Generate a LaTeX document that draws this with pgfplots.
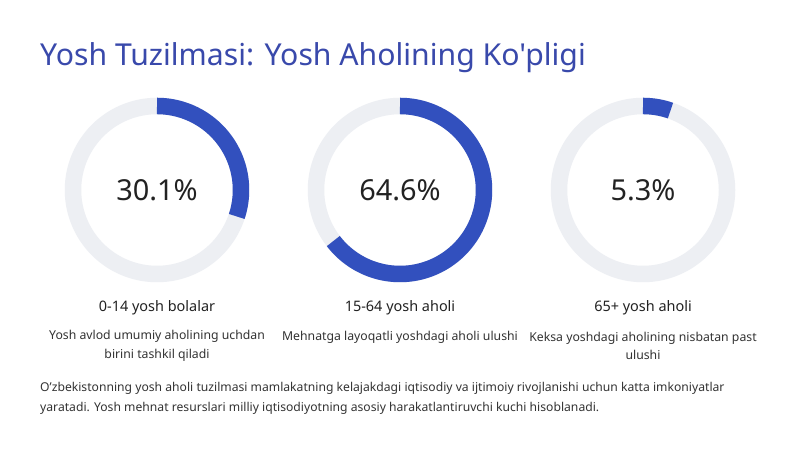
\documentclass[border=0pt]{standalone}
\usepackage{pgfplots}
\usepackage{pgfplotstable}
\pgfplotsset{compat=1.18}
\usepackage{fontspec}
\setmainfont{Noto Sans}
\newfontfamily\titlefont{Noto Sans}[Ligatures=ResetAll]
\definecolor{titleblue}{RGB}{57,73,171}
\definecolor{arcblue}{RGB}{50,80,190}
\definecolor{ringgray}{RGB}{237,239,243}
\definecolor{txt}{RGB}{34,34,34}
\definecolor{txtb}{RGB}{51,51,51}

\pgfplotstableread{
group value
0-14 30.1
15-64 64.6
65+ 5.3
}\agetable
\pgfplotstablegetelem{0}{value}\of\agetable \let\valA\pgfplotsretval
\pgfplotstablegetelem{1}{value}\of\agetable \let\valB\pgfplotsretval
\pgfplotstablegetelem{2}{value}\of\agetable \let\valC\pgfplotsretval

\pgfplotsset{donut/.style={
  x=1bp, y=1bp, scale only axis, hide axis, clip=false,
  xmin=-100, xmax=100, ymin=-100, ymax=100, anchor=center
}}

\begin{document}
\begin{tikzpicture}[x=1bp,y=1bp]
\fill[white] (0,0) rectangle (800,450);
\node[anchor=base west, text=titleblue, font=\titlefont\fontsize{30.3}{36}\selectfont, inner sep=0pt] at (40,384) {Yosh Tuzilmasi: Yosh Aholining Ko'pligi};

% donut 1
\begin{axis}[donut, at={(157,260)}]
\addplot[draw=ringgray, line width=16.5bp, line join=round, domain=0:360, samples=181] ({84*cos(x)},{84*sin(x)});
\addplot[draw=arcblue, line width=16.5bp, line join=round, line cap=butt, domain={90-3.6*\valA}:90, samples=100] ({84*cos(x)},{84*sin(x)});
\node[font=\fontsize{29}{34}\selectfont, text=txt] at (axis cs:0,0) {\valA\%};
\end{axis}

% donut 2
\begin{axis}[donut, at={(400,260)}]
\addplot[draw=ringgray, line width=16.5bp, line join=round, domain=0:360, samples=181] ({84*cos(x)},{84*sin(x)});
\addplot[draw=arcblue, line width=16.5bp, line join=round, line cap=butt, domain={90-3.6*\valB}:90, samples=150] ({84*cos(x)},{84*sin(x)});
\node[font=\fontsize{29}{34}\selectfont, text=txt] at (axis cs:0,0) {\valB\%};
\end{axis}

% donut 3
\begin{axis}[donut, at={(643,260)}]
\addplot[draw=ringgray, line width=16.5bp, line join=round, domain=0:360, samples=181] ({84*cos(x)},{84*sin(x)});
\addplot[draw=arcblue, line width=16.5bp, line join=round, line cap=butt, domain={90-3.6*\valC}:90, samples=30] ({84*cos(x)},{84*sin(x)});
\node[font=\fontsize{29}{34}\selectfont, text=txt] at (axis cs:0,0) {\valC\%};
\end{axis}

% labels
\foreach \cx/\lab in {157/{0-14 yosh bolalar}, 400/{15-64 yosh aholi}, 643/{65+ yosh aholi}}{
  \node[font=\fontsize{14.5}{18}\selectfont, text=txt] at (\cx,142) {\lab};
}
\node[font=\fontsize{12.3}{18.5}\selectfont, text=txtb, align=center] at (157,104) {Yosh avlod umumiy aholining uchdan\\birini tashkil qiladi};
\node[font=\fontsize{12.3}{18.5}\selectfont, text=txtb, align=center] at (400,113) {Mehnatga layoqatli yoshdagi aholi ulushi};
\node[font=\fontsize{12.3}{18.5}\selectfont, text=txtb, align=center] at (643,104) {Keksa yoshdagi aholining nisbatan past\\ulushi};

\node[anchor=west, font=\fontsize{12.2}{20}\selectfont, text=txtb, align=left, inner sep=0pt] at (40,52) {O'zbekistonning yosh aholi tuzilmasi mamlakatning kelajakdagi iqtisodiy va ijtimoiy rivojlanishi uchun katta imkoniyatlar\\yaratadi. Yosh mehnat resurslari milliy iqtisodiyotning asosiy harakatlantiruvchi kuchi hisoblanadi.};
\end{tikzpicture}
\end{document}
